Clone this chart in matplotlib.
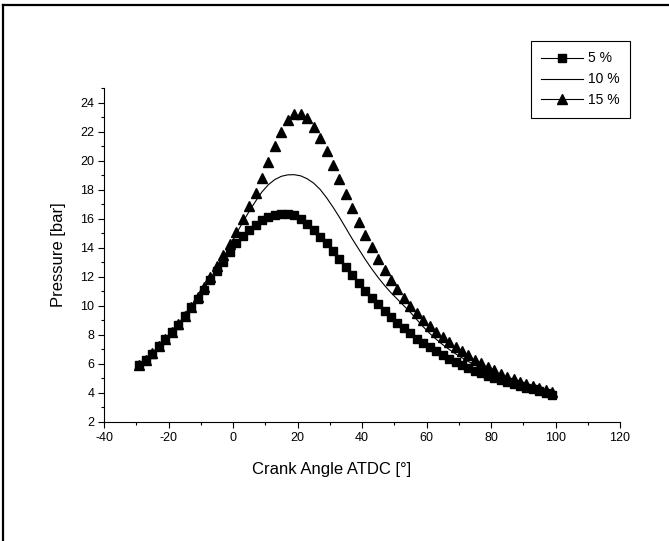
import numpy as np
import matplotlib
matplotlib.use('Agg')
import matplotlib.pyplot as plt
from matplotlib.lines import Line2D
from matplotlib.ticker import MultipleLocator

plt.rcParams['font.family'] = ['Liberation Sans', 'DejaVu Sans']
plt.rcParams['axes.unicode_minus'] = False

# Angulo de manivela (graus ATDC)
angulo = np.arange(-29, 100, 2)

p_5 = [5.9, 6.3, 6.7, 7.2, 7.7, 8.2, 8.7, 9.3, 9.9, 10.5, 11.1, 11.75, 12.4, 13.05, 13.7,
       14.3, 14.8, 15.25, 15.6, 15.9, 16.1, 16.25, 16.35, 16.35, 16.25, 16.0, 15.65, 15.2, 14.75, 14.3,
       13.8, 13.2, 12.65, 12.1, 11.55, 11.05, 10.55, 10.1, 9.65, 9.25, 8.85, 8.45, 8.1, 7.75, 7.45, 7.15,
       6.87, 6.6, 6.35, 6.12, 5.9, 5.7, 5.52, 5.35, 5.2, 5.04, 4.89, 4.75, 4.61, 4.48, 4.36, 4.24, 4.13, 4.0, 3.88]

p_10 = [5.9, 6.3, 6.72, 7.2, 7.7, 8.2, 8.72, 9.3, 9.92, 10.55, 11.2, 11.88, 12.58, 13.3, 14.1,
        14.95, 15.75, 16.5, 17.2, 17.85, 18.35, 18.7, 18.92, 19.02, 19.03, 18.95, 18.75, 18.45, 18.02, 17.45,
        16.8, 16.1, 15.35, 14.6, 13.9, 13.2, 12.55, 11.95, 11.4, 10.9, 10.45, 10.0, 9.55, 9.05, 8.55, 8.1,
        7.7, 7.33, 7.0, 6.7, 6.42, 6.16, 5.92, 5.7, 5.5, 5.31, 5.13, 4.96, 4.8, 4.65, 4.51, 4.38, 4.25, 4.13, 4.02]

p_15 = [5.9, 6.3, 6.75, 7.2, 7.7, 8.2, 8.75, 9.3, 9.95, 10.6, 11.3, 12.0, 12.75, 13.5, 14.25,
        15.05, 15.95, 16.9, 17.8, 18.8, 19.9, 21.0, 22.0, 22.8, 23.2, 23.2, 22.9, 22.3, 21.55, 20.65,
        19.7, 18.7, 17.7, 16.75, 15.8, 14.9, 14.05, 13.25, 12.5, 11.8, 11.15, 10.55, 10.0, 9.5, 9.05, 8.62,
        8.22, 7.85, 7.5, 7.17, 6.87, 6.58, 6.3, 6.03, 5.78, 5.55, 5.33, 5.13, 4.94, 4.77, 4.61, 4.46, 4.32, 4.2, 4.08]

rotulos = ['5 %', '10 %', '15 %']

fig = plt.figure(figsize=(6.69, 5.41), dpi=100)
ax = fig.add_axes([104 / 669, 119 / 541, 516 / 669, 334 / 541])

ax.plot(angulo, p_5, color='black', linestyle='none', marker='s', markersize=5.4, label=rotulos[0])
ax.plot(angulo, p_10, color='black', linewidth=0.8, label=rotulos[1])
ax.plot(angulo, p_15, color='black', linestyle='none', marker='^', markersize=6.5, label=rotulos[2])

ax.set_xlim(-40, 120)
ax.set_ylim(2, 25)
ax.xaxis.set_major_locator(MultipleLocator(20))
ax.xaxis.set_minor_locator(MultipleLocator(10))
ax.yaxis.set_major_locator(MultipleLocator(2))
ax.yaxis.set_minor_locator(MultipleLocator(1))
ax.tick_params(which='major', direction='out', length=4, width=0.8, labelsize=9, pad=3)
ax.tick_params(which='minor', direction='out', length=2.5, width=0.8)
ax.spines['top'].set_visible(False)
ax.spines['right'].set_visible(False)

ax.set_xlabel('Crank Angle ATDC [°]', fontsize=12, labelpad=11)
ax.xaxis.set_label_coords(0.441, -0.12)
ax.set_ylabel('Pressure [bar]', fontsize=12, labelpad=10)

# Legenda com linha atravessando o marcador
handles = [
    Line2D([], [], color='black', linewidth=0.8, marker='s', markersize=5.4),
    Line2D([], [], color='black', linewidth=0.8),
    Line2D([], [], color='black', linewidth=0.8, marker='^', markersize=6.5),
]
leg = ax.legend(handles, rotulos, loc='upper right', bbox_to_anchor=(630 / 669, 1 - 41 / 541),
                bbox_transform=fig.transFigure, fontsize=10, handlelength=3.0, handletextpad=0.35,
                labelspacing=0.5, borderpad=0.75, frameon=True, fancybox=False, framealpha=1,
                edgecolor='black', borderaxespad=0)
leg.get_frame().set_linewidth(0.8)

# Moldura externa
fig.add_artist(Line2D([3 / 669, 1], [1 - 5 / 541, 1 - 5 / 541], color='black', linewidth=1.6,
                      transform=fig.transFigure))
fig.add_artist(Line2D([3 / 669, 3 / 669], [0, 1 - 5 / 541], color='black', linewidth=1.6,
                      transform=fig.transFigure))

plt.savefig('out.png', dpi=100)
